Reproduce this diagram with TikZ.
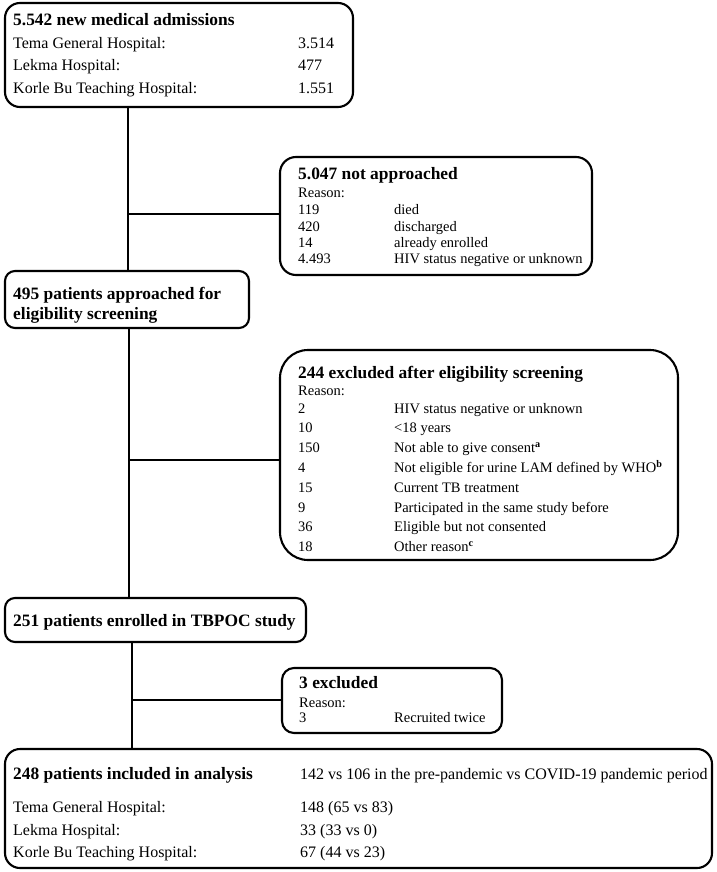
\documentclass[tikz,border=0pt]{standalone}
\usepackage{fontspec}
\setmainfont{Liberation Serif}
\begin{document}
\begin{tikzpicture}[x=1pt,y=-1pt,
  box/.style={draw, line width=2.1pt, rounded corners=#1, inner sep=0pt, outer sep=0pt, anchor=north west},
  box/.default=14pt,
  ttl/.style={font=\fontsize{17.4}{20}\selectfont\bfseries, anchor=base west, inner sep=0pt},
  bodyA/.style={font=\fontsize{16}{19}\selectfont, anchor=base west, inner sep=0pt},
  bodyB/.style={font=\fontsize{14.5}{17}\selectfont, anchor=base west, inner sep=0pt},
  conn/.style={line width=2pt}
]
\useasboundingbox[fill=white] (0,0) rectangle (716,872);

% boxes
\node[box=15pt, minimum width=348pt, minimum height=104pt] (b1) at (5,3) {};
\node[box=16pt, minimum width=312pt, minimum height=118pt] (b2) at (280,157) {};
\node[box=10pt, minimum width=244pt, minimum height=57pt] (b3) at (5,271) {};
\node[box=28pt, minimum width=398pt, minimum height=210pt] (b4) at (280,350) {};
\node[box=10pt, minimum width=301pt, minimum height=44pt] (b5) at (5,598) {};
\node[box=12pt, minimum width=220pt, minimum height=65pt] (b6) at (282,668) {};
\node[box=15pt, minimum width=707pt, minimum height=119pt] (b7) at (5,749) {};

% box 1 text
\node[ttl] (t1) at (13,26) {5.542 new medical admissions};
\node[bodyA] (t1a) at (13,49) {Tema General Hospital:};
\node[bodyA] (t1b) at (298,49) {3.514};
\node[bodyA] (t1c) at (13,71) {Lekma Hospital:};
\node[bodyA] (t1d) at (298,71) {477};
\node[bodyA] (t1e) at (13,94) {Korle Bu Teaching Hospital:};
\node[bodyA] (t1f) at (298,94) {1.551};

% box 2 text
\node[ttl] (t2) at (298,179) {5.047 not approached};
\node[bodyB] (t2r) at (298,197) {Reason:};
\node[bodyB] (t2a) at (298,214) {119};
\node[bodyB] (t2b) at (394,214) {died};
\node[bodyB] (t2c) at (298,231) {420};
\node[bodyB] (t2d) at (394,231) {discharged};
\node[bodyB] (t2e) at (298,247) {14};
\node[bodyB] (t2f) at (394,247) {already enrolled};
\node[bodyB] (t2g) at (298,263) {4.493};
\node[bodyB] (t2h) at (394,263) {HIV status negative or unknown};

% box 3 text
\node[ttl] (t3a) at (13,299) {495 patients approached for};
\node[ttl] (t3b) at (13,319) {eligibility screening};

% box 4 text
\node[ttl] (t4) at (298,378) {244 excluded after eligibility screening};
\node[bodyB] (t4r) at (298,395) {Reason:};
\node[bodyB] (n1) at (298,413) {2};
\node[bodyB] (r1) at (394,413) {HIV status negative or unknown};
\node[bodyB] (n2) at (298,432.8) {10};
\node[bodyB] (r2) at (394,432.8) {<18 years};
\node[bodyB] (n3) at (298,452.6) {150};
\node[bodyB] (r3) at (394,452.6) {Not able to give consent\textsuperscript{\bfseries a}};
\node[bodyB] (n4) at (298,472.4) {4};
\node[bodyB] (r4) at (394,472.4) {Not eligible for urine LAM defined by WHO\textsuperscript{\bfseries b}};
\node[bodyB] (n5) at (298,492.2) {15};
\node[bodyB] (r5) at (394,492.2) {Current TB treatment};
\node[bodyB] (n6) at (298,512) {9};
\node[bodyB] (r6) at (394,512) {Participated in the same study before};
\node[bodyB] (n7) at (298,531.8) {36};
\node[bodyB] (r7) at (394,531.8) {Eligible but not consented};
\node[bodyB] (n8) at (298,551.6) {18};
\node[bodyB] (r8) at (394,551.6) {Other reason\textsuperscript{\bfseries c}};

% box 5 text
\node[ttl] (t5) at (13,626) {251 patients enrolled in TBPOC study};

% box 6 text
\node[ttl] (t6) at (299,688) {3 excluded};
\node[bodyB] (t6r) at (299,707) {Reason:};
\node[bodyB] (t6a) at (299,722) {3};
\node[bodyB] (t6b) at (394,722) {Recruited twice};

% box 7 text
\node[ttl] (t7) at (13,779) {248 patients included in analysis};
\node[bodyA] (t7x) at (300,779) {142 vs 106 in the pre-pandemic vs COVID-19 pandemic period};
\node[bodyA] (t7a) at (13,812) {Tema General Hospital:};
\node[bodyA] (t7b) at (300,812) {148 (65 vs 83)};
\node[bodyA] (t7c) at (13,835) {Lekma Hospital:};
\node[bodyA] (t7d) at (300,835) {33 (33 vs 0)};
\node[bodyA] (t7e) at (13,857) {Korle Bu Teaching Hospital:};
\node[bodyA] (t7f) at (300,857) {67 (44 vs 23)};

% connectors
\coordinate (ja) at (128,214);
\coordinate (jb) at (129,460);
\coordinate (jc) at (132,700);
\draw[conn] (b1.south -| ja) -- (b3.north -| ja);
\draw[conn] (ja) -- (ja -| b2.west);
\draw[conn] (b3.south -| jb) -- (b5.north -| jb);
\draw[conn] (jb) -- (jb -| b4.west);
\draw[conn] (b5.south -| jc) -- (b7.north -| jc);
\draw[conn] (jc) -- (jc -| b6.west);
\end{tikzpicture}
\end{document}
